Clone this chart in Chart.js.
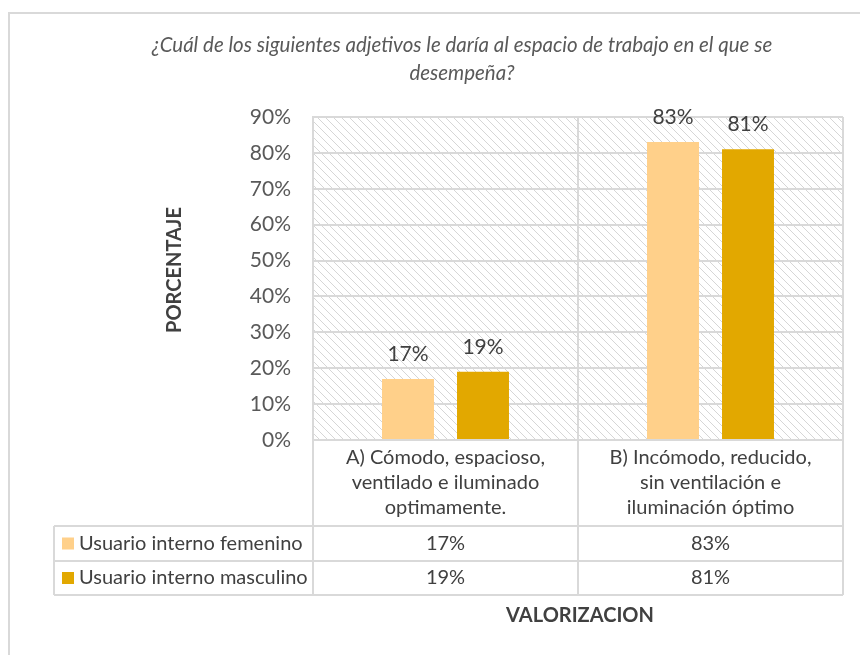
<!DOCTYPE html>
<html>
<head>
<meta charset="utf-8">
<script src="https://cdn.jsdelivr.net/npm/chart.js@4/dist/chart.umd.min.js"></script>
<style>
  html, body { margin: 0; padding: 0; background: #fff; }
  #wrap { width: 860px; height: 655px; }
</style>
</head>
<body>
<div id="wrap"><canvas id="barChart" width="860" height="655"></canvas></div>
<script>
const categories = [
    ['A) Cómodo, espacioso,', 'ventilado e iluminado', 'optimamente.'],
    ['B) Incómodo, reducido,', 'sin ventilación e', 'iluminación óptimo']
];
const seriesNames = ['Usuario interno femenino', 'Usuario interno masculino'];
const femenino = [17, 83];
const masculino = [19, 81];
const yTicks = [0, 10, 20, 30, 40, 50, 60, 70, 80, 90];
const seriesColors = ['#FFD08A', '#E2A800'];

const FONT = 'Lato, "Open Sans", sans-serif';
const GRID = '#d9d9d9';
const TEXT = '#404040';

function makeHatch() {
    const c = document.createElement('canvas');
    c.width = 8; c.height = 8;
    const g = c.getContext('2d');
    g.strokeStyle = '#d6d6d6';
    g.lineWidth = 1;
    g.beginPath();
    g.moveTo(-1, -1); g.lineTo(9, 9);
    g.moveTo(-1, 7); g.lineTo(1, 9);
    g.moveTo(7, -1); g.lineTo(9, 1);
    g.stroke();
    return c;
}

const extras = {
    id: 'extras',
    beforeDraw(chart) {
        const { ctx, chartArea: a } = chart;
        ctx.save();
        // outer frame
        ctx.strokeStyle = GRID;
        ctx.lineWidth = 2;
        ctx.beginPath();
        ctx.moveTo(9, 660); ctx.lineTo(9, 13); ctx.lineTo(870, 13);
        ctx.stroke();
        // hatched plot background
        ctx.fillStyle = ctx.createPattern(makeHatch(), 'repeat');
        ctx.fillRect(a.left, a.top, a.right - a.left, a.bottom - a.top);
        ctx.restore();
    },
    afterDatasetsDraw(chart) {
        const { ctx } = chart;
        ctx.save();
        ctx.font = '21px ' + FONT;
        ctx.fillStyle = TEXT;
        ctx.textAlign = 'center';
        ctx.textBaseline = 'middle';
        chart.data.datasets.forEach((ds, di) => {
            chart.getDatasetMeta(di).data.forEach((bar, i) => {
                ctx.fillText(ds.data[i] + '%', bar.x, bar.y - 25);
            });
        });
        ctx.restore();
    },
    afterDraw(chart) {
        const { ctx, chartArea: a } = chart;
        const xs = chart.scales.x;
        const centers = categories.map((c, i) => xs.getPixelForValue(i));
        const bounds = [a.left];
        for (let i = 0; i < centers.length - 1; i++) bounds.push((centers[i] + centers[i + 1]) / 2);
        bounds.push(a.right);
        const rowTop = a.bottom + 86;
        const rowH = [35, 34];
        const tableLeft = 54;
        ctx.save();
        ctx.strokeStyle = GRID;
        ctx.lineWidth = 2;
        ctx.beginPath();
        const bottom = rowTop + rowH[0] + rowH[1];
        bounds.forEach(x => { ctx.moveTo(x, a.bottom); ctx.lineTo(x, bottom); });
        ctx.moveTo(tableLeft, rowTop); ctx.lineTo(tableLeft, bottom);
        let y = rowTop;
        ctx.moveTo(tableLeft, y); ctx.lineTo(a.right, y);
        rowH.forEach(h => { y += h; ctx.moveTo(tableLeft, y); ctx.lineTo(a.right, y); });
        ctx.stroke();

        // table rows
        y = rowTop;
        chart.data.datasets.forEach((ds, si) => {
            const cy = y + rowH[si] / 2;
            ctx.fillStyle = ds.backgroundColor;
            ctx.fillRect(62, cy - 6, 12, 12);
            ctx.fillStyle = TEXT;
            ctx.font = '20px ' + FONT;
            ctx.textAlign = 'left';
            ctx.textBaseline = 'middle';
            ctx.fillText(ds.label, 79, cy);
            ctx.textAlign = 'center';
            ds.data.forEach((v, i) => ctx.fillText(v + '%', centers[i], cy));
            y += rowH[si];
        });

        // titles
        ctx.fillStyle = '#595959';
        ctx.font = 'italic 20.5px ' + FONT;
        ctx.textAlign = 'center';
        ctx.fillText('¿Cuál de los siguientes adjetivos le daría al espacio de trabajo en el que se', 462, 45);
        ctx.fillText('desempeña?', 462, 73);

        ctx.fillStyle = TEXT;
        ctx.font = 'bold 20px ' + FONT;
        ctx.fillText('VALORIZACION', 580, 616);
        ctx.translate(175, 270);
        ctx.rotate(-Math.PI / 2);
        ctx.fillText('PORCENTAJE', 0, 0);
        ctx.restore();
    }
};

const barCtx = document.getElementById('barChart').getContext('2d');
const barChart = new Chart(barCtx, {
    type: 'bar',
    data: {
        labels: categories,
        datasets: [{
            label: seriesNames[0],
            data: femenino,
            backgroundColor: seriesColors[0],
            categoryPercentage: 0.566,
            barPercentage: 0.693
        }, {
            label: seriesNames[1],
            data: masculino,
            backgroundColor: seriesColors[1],
            categoryPercentage: 0.566,
            barPercentage: 0.693
        }]
    },
    options: {
        responsive: false,
        animation: false,
        layout: { padding: { left: 0, right: 17, top: 117, bottom: 0 } },
        plugins: {
            legend: { display: false },
            tooltip: { enabled: false },
            title: { display: false }
        },
        scales: {
            x: {
                grid: { color: GRID, lineWidth: 2, offset: true, drawTicks: false },
                border: { color: GRID, width: 2 },
                ticks: {
                    color: TEXT,
                    font: { family: FONT, size: 20, lineHeight: 1.25 },
                    padding: 5,
                    maxRotation: 0,
                    autoSkip: false
                },
                afterFit(scale) { scale.height = 215; }
            },
            y: {
                min: 0,
                max: 90,
                afterBuildTicks(scale) { scale.ticks = yTicks.map(v => ({ value: v })); },
                grid: { color: GRID, lineWidth: 2, drawTicks: false },
                border: { color: GRID, width: 2 },
                ticks: {
                    color: '#595959',
                    font: { family: FONT, size: 21 },
                    padding: 22,
                    callback: v => v + '%'
                },
                afterFit(scale) { scale.width = 313; }
            }
        }
    },
    plugins: [extras]
});
</script>
</body>
</html>
